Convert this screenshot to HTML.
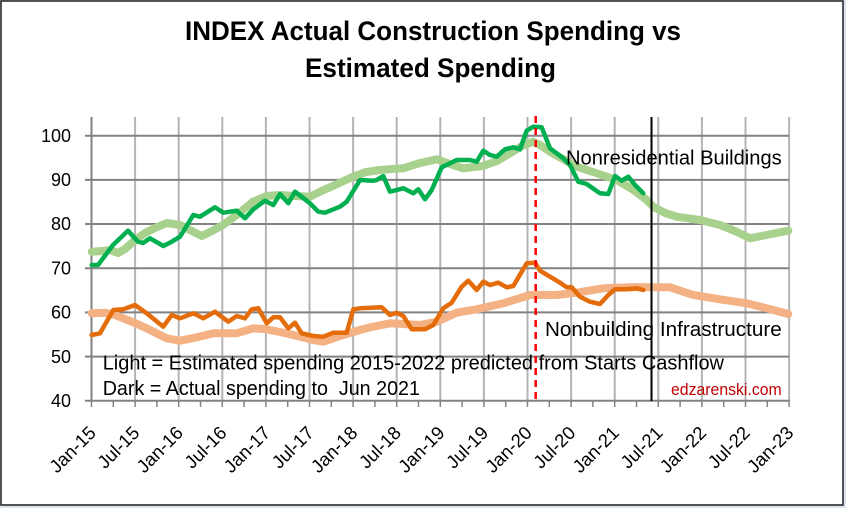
<!DOCTYPE html>
<html><head><meta charset="utf-8"><style>
html,body{margin:0;padding:0;background:#dde5ee;}
svg{display:block;}
text{font-family:"Liberation Sans",Arial,sans-serif;}
</style></head><body>
<svg width="846" height="508" viewBox="0 0 846 508" xmlns="http://www.w3.org/2000/svg">
<rect x="0" y="0" width="846" height="508" fill="#dde5ee"/>
<rect x="1" y="1" width="842" height="504" fill="#ffffff" stroke="#1f1f1f" stroke-width="1.5"/>

<!-- title -->
<text x="185" y="40" font-size="26.5" font-weight="bold" fill="#000" textLength="496" lengthAdjust="spacingAndGlyphs">INDEX Actual Construction Spending vs</text>
<text x="305" y="77" font-size="26.5" font-weight="bold" fill="#000" textLength="251" lengthAdjust="spacingAndGlyphs">Estimated Spending</text>

<!-- vertical gridlines -->
<g stroke="#b4b4b4" stroke-width="2">
<line x1="135.1" y1="117" x2="135.1" y2="401"/>
<line x1="178.7" y1="117" x2="178.7" y2="401"/>
<line x1="222.3" y1="117" x2="222.3" y2="401"/>
<line x1="265.9" y1="117" x2="265.9" y2="401"/>
<line x1="309.5" y1="117" x2="309.5" y2="401"/>
<line x1="353.1" y1="117" x2="353.1" y2="401"/>
<line x1="396.7" y1="117" x2="396.7" y2="401"/>
<line x1="440.3" y1="117" x2="440.3" y2="401"/>
<line x1="483.9" y1="117" x2="483.9" y2="401"/>
<line x1="527.5" y1="117" x2="527.5" y2="401"/>
<line x1="571.1" y1="117" x2="571.1" y2="401"/>
<line x1="614.7" y1="117" x2="614.7" y2="401"/>
<line x1="658.3" y1="117" x2="658.3" y2="401"/>
<line x1="701.9" y1="117" x2="701.9" y2="401"/>
<line x1="745.5" y1="117" x2="745.5" y2="401"/>
<line x1="789.1" y1="117" x2="789.1" y2="401"/>
</g>
<!-- horizontal gridlines -->
<g stroke="#828282" stroke-width="2">
<line x1="85" y1="135.7" x2="789.1" y2="135.7"/>
<line x1="85" y1="179.9" x2="789.1" y2="179.9"/>
<line x1="85" y1="224" x2="789.1" y2="224"/>
<line x1="85" y1="268.2" x2="789.1" y2="268.2"/>
<line x1="85" y1="312.4" x2="789.1" y2="312.4"/>
<line x1="85" y1="356.6" x2="789.1" y2="356.6"/>
<line x1="85" y1="400.8" x2="789.1" y2="400.8"/>
<line x1="91.5" y1="117" x2="91.5" y2="401"/>
</g>
<!-- x ticks every 3 months -->
<g stroke="#828282" stroke-width="1.5">
<line x1="91.5" y1="400" x2="91.5" y2="407"/><line x1="113.3" y1="400" x2="113.3" y2="407"/>
<line x1="135.1" y1="400" x2="135.1" y2="407"/><line x1="156.9" y1="400" x2="156.9" y2="407"/>
<line x1="178.7" y1="400" x2="178.7" y2="407"/><line x1="200.5" y1="400" x2="200.5" y2="407"/>
<line x1="222.3" y1="400" x2="222.3" y2="407"/><line x1="244.1" y1="400" x2="244.1" y2="407"/>
<line x1="265.9" y1="400" x2="265.9" y2="407"/><line x1="287.7" y1="400" x2="287.7" y2="407"/>
<line x1="309.5" y1="400" x2="309.5" y2="407"/><line x1="331.3" y1="400" x2="331.3" y2="407"/>
<line x1="353.1" y1="400" x2="353.1" y2="407"/><line x1="374.9" y1="400" x2="374.9" y2="407"/>
<line x1="396.7" y1="400" x2="396.7" y2="407"/><line x1="418.5" y1="400" x2="418.5" y2="407"/>
<line x1="440.3" y1="400" x2="440.3" y2="407"/><line x1="462.1" y1="400" x2="462.1" y2="407"/>
<line x1="483.9" y1="400" x2="483.9" y2="407"/><line x1="505.7" y1="400" x2="505.7" y2="407"/>
<line x1="527.5" y1="400" x2="527.5" y2="407"/><line x1="549.3" y1="400" x2="549.3" y2="407"/>
<line x1="571.1" y1="400" x2="571.1" y2="407"/><line x1="592.9" y1="400" x2="592.9" y2="407"/>
<line x1="614.7" y1="400" x2="614.7" y2="407"/><line x1="636.5" y1="400" x2="636.5" y2="407"/>
<line x1="658.3" y1="400" x2="658.3" y2="407"/><line x1="680.1" y1="400" x2="680.1" y2="407"/>
<line x1="701.9" y1="400" x2="701.9" y2="407"/><line x1="723.7" y1="400" x2="723.7" y2="407"/>
<line x1="745.5" y1="400" x2="745.5" y2="407"/><line x1="767.3" y1="400" x2="767.3" y2="407"/>
<line x1="789.1" y1="400" x2="789.1" y2="407"/>
</g>

<!-- y labels -->
<g font-size="18" fill="#000" text-anchor="end">
<text x="71" y="142">100</text>
<text x="71" y="186">90</text>
<text x="71" y="230">80</text>
<text x="71" y="274.5">70</text>
<text x="71" y="318.5">60</text>
<text x="71" y="363">50</text>
<text x="71" y="407">40</text>
</g>

<!-- x labels -->
<g font-size="18.5" fill="#000" text-anchor="end">
<text transform="translate(97,434) rotate(-45)">Jan-15</text>
<text transform="translate(140.6,434) rotate(-45)">Jul-15</text>
<text transform="translate(184.2,434) rotate(-45)">Jan-16</text>
<text transform="translate(227.8,434) rotate(-45)">Jul-16</text>
<text transform="translate(271.4,434) rotate(-45)">Jan-17</text>
<text transform="translate(315,434) rotate(-45)">Jul-17</text>
<text transform="translate(358.6,434) rotate(-45)">Jan-18</text>
<text transform="translate(402.2,434) rotate(-45)">Jul-18</text>
<text transform="translate(445.8,434) rotate(-45)">Jan-19</text>
<text transform="translate(489.4,434) rotate(-45)">Jul-19</text>
<text transform="translate(533,434) rotate(-45)">Jan-20</text>
<text transform="translate(576.6,434) rotate(-45)">Jul-20</text>
<text transform="translate(620.2,434) rotate(-45)">Jan-21</text>
<text transform="translate(663.8,434) rotate(-45)">Jul-21</text>
<text transform="translate(707.4,434) rotate(-45)">Jan-22</text>
<text transform="translate(751,434) rotate(-45)">Jul-22</text>
<text transform="translate(794.6,434) rotate(-45)">Jan-23</text>
</g>

<!-- light series -->
<g fill="none" stroke-linejoin="round" stroke-linecap="round">
<polyline stroke="#a9d18e" stroke-width="8" points="91.7,251.7 103,251 110,250 118,253 125,249 135,240 145,233 155,228 166.7,223 180,225 190,230 201.7,236 212,231 223,225 238,214 253,201.7 266.7,196 280,195 295,196 310,196.7 320,191.7 335,185 353,176.7 366,172 380,170 403,168.3 420,163 436.7,159.3 450,164 463,168.3 483,166 497,161 510,153.3 522,146 533,141.7 540,145 550,151.7 563,159 576.7,166.7 596,173 616.7,180 632,189 646.7,200 653.3,206.7 665,213 676.7,216.7 700,220 720,225 735,231 750,238.3 766.7,235 788.3,230.7"/>
<polyline stroke="#f4b183" stroke-width="8" points="91.7,313.3 105,312.7 115,315 123.3,318.3 135,323 146.7,328.3 156,333 166.7,338.3 180,340.7 196.7,337.3 213.3,333.3 236.7,333.3 253.3,328.3 266.7,329.3 280,332 293.3,335 313.3,340 323.3,341.7 340,336 360,330 370,327.3 390,323.3 420,325 436.7,321.7 456.7,312.7 476.7,309.3 503.3,303.3 530,295 556.7,295 576.7,292.7 603.3,288.3 630,287.3 670,287.3 693.3,295 720,299.3 746.7,303.3 766.7,308.3 788.3,314"/>
<!-- dark series -->
<polyline stroke="#00b050" stroke-width="4.5" points="91.7,265 98,265 113,245 128,230.7 138,241.7 143,243 150,238.3 163.3,246 171.7,241.7 180,236.7 193.3,215 200,216.7 215,207.3 223.3,212.7 236.7,210.7 245,218.3 253.3,209.3 265,200.7 273.3,205 280,194 288.3,203.3 295,191.7 310,203.3 318.3,211.7 325,212.7 340,206.7 346.7,201.7 360,180 373.3,180.7 376.7,180 383.3,176 390,191.7 403.3,188.3 413.3,193.3 418.3,189.3 425,199.3 431.7,190 441.7,167.3 456.7,160 470,160 476.7,161.7 483.3,150.7 490,155 496.7,156.7 505,149.3 513.3,147.3 520,149.3 526.7,130.7 533.3,126.7 541.7,127.3 550,148.3 563.3,158.3 570,165 578.3,181.7 586.7,184 600,193.3 608.3,194 615,176 621.7,180.7 628.3,176.7 635,185 643.3,193.3"/>
<polyline stroke="#e46c0a" stroke-width="4.5" points="91.7,335 100,333.3 113.3,310 123.3,309.3 135,305 146.7,313.3 163.3,326.7 171.7,315 180,318.3 193.3,313.3 203.3,318.3 215,311.7 228.3,321.7 236.7,316 245,318.3 251.7,309.3 258.3,308.3 266.7,323.3 273.3,317.3 280,317.3 288.3,328.3 295,322.7 301.7,333.3 313.3,336 323.3,336.7 333.3,332.7 346.7,332.7 353.3,309.3 360,308.3 381.7,307.3 390,315 396.7,312.7 403.3,316 411.7,329.3 425,329.3 433.3,325 443.3,308.3 451.7,302.7 461.7,286.7 468.3,280.7 476.7,290 483.3,281.7 490,285 498.3,282.7 506.7,287.3 513.3,286 526.7,263.3 535,262.7 540,270.7 550,276.7 560,282.7 566.7,287.3 571.7,287.3 580,296.7 590,301.7 600,304 608.3,295 615,289.3 626.7,289.3 636.7,288.3 643.3,290"/>
</g>

<!-- vertical markers -->
<line x1="535.7" y1="116" x2="535.7" y2="401" stroke="#ff0000" stroke-width="2.5" stroke-dasharray="7,5"/>
<line x1="651.5" y1="117" x2="651.5" y2="401" stroke="#000" stroke-width="2"/>

<!-- annotations -->
<text x="566" y="164.3" font-size="20" fill="#000" textLength="215.7" lengthAdjust="spacingAndGlyphs">Nonresidential Buildings</text>
<text x="545" y="336" font-size="20" fill="#000" textLength="236.7" lengthAdjust="spacingAndGlyphs">Nonbuilding Infrastructure</text>
<text x="102.7" y="369.3" font-size="20" fill="#000" textLength="621.3" lengthAdjust="spacingAndGlyphs">Light = Estimated spending 2015-2022 predicted from Starts Cashflow</text>
<text x="102.7" y="395" font-size="20" fill="#000" textLength="317.3" lengthAdjust="spacingAndGlyphs" style="white-space:pre">Dark = Actual spending to  Jun 2021</text>
<text x="671" y="395" font-size="17" fill="#c00000" textLength="110.7" lengthAdjust="spacingAndGlyphs">edzarenski.com</text>
</svg>
</body></html>
